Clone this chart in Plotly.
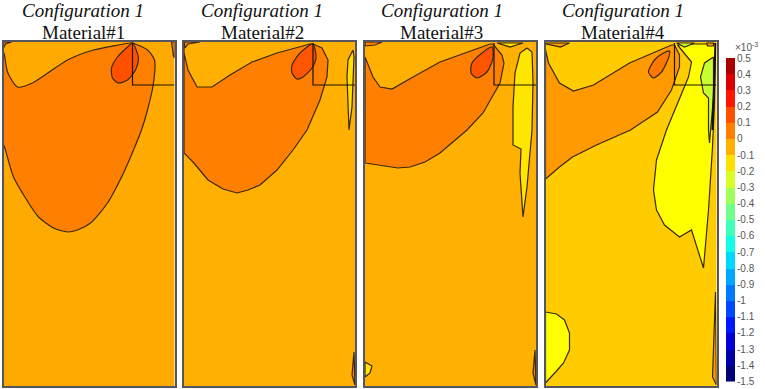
import plotly.graph_objects as go

W, H = 765, 389
PANEL_LEFT = [3.5, 184, 365, 545.5]
PANEL_W, PANEL_H = 171, 344
PANEL_TOP = 42
MATERIALS = ["Material#1", "Material#2", "Material#3", "Material#4"]
TITLE_X = [83, 262, 442, 623]

BAR_COLORS = ["#aa0000", "#dd0000", "#ff1500", "#ff5000", "#ff8000", "#ffb000", "#ffe000", "#d8ff28",
              "#a0ff58", "#70ff88", "#40ffb8", "#10ffe8", "#00d8ff", "#00a8ff", "#0078ff", "#0048ff",
              "#0018ff", "#0000d8", "#0000a8", "#000078"]
BAR_TICKS = [0.5, 0.4, 0.3, 0.2, 0.1, 0, -0.1, -0.2, -0.3, -0.4, -0.5, -0.6, -0.7, -0.8, -0.9,
             -1, -1.1, -1.2, -1.3, -1.4, -1.5]
BAR_MIDS = [0.45, 0.35, 0.25, 0.15, 0.05, -0.05, -0.15, -0.25, -0.35, -0.45, -0.55, -0.65, -0.75,
            -0.85, -0.95, -1.05, -1.15, -1.25, -1.35, -1.45]

BG = ["#ffaa00", "#ffb000", "#ffb000", "#ffcc00"]

p1_lobe = [(0,10),(1,13),(4,30),(14,45),(29,41),(64,18),(90,8),(127,1),(129,1),(144,8),(151,18),(150,41),
           (144,68),(138,88),(130,108),(120,131),(104,161),(87,181),(74,188),(64,190),(50,186),(35,175),
           (22,156),(10,135),(1,105),(0,103)]
p1_core = [(129,1),(135,16),(132,28),(124,38),(115,41),(109,36),(108,26),(114,15),(124,5)]
p1_tl = [(0,0),(8,0),(2,2),(0,6)]
p1_tr = [(171,0),(168,0),(170,14),(171,16)]

p2_lobe = [(0,0),(0,11),(4,28),(13,45),(28,45),(46,33),(68,20),(93,11),(126,2),(129,2),(138,6),(144,18),(143,35),
           (136,58),(123,88),(109,108),(93,128),(76,143),(64,148),(53,151),(39,147),(24,138),(9,120),(0,111)]
p2_core = [(129,2),(132,16),(128,26),(119,35),(113,37),(108,31),(108,23),(116,11)]
p2_sliver = [(169,8),(164,18),(163,35),(164,60),(165,88),(168,65),(169,38),(170,15)]
p2_tl = [(0,0),(16,0),(4,2),(1,6)]
p2_br = [(168,333),(170,310),(171,343)]

p3_lobe = [(0,15),(8,35),(15,45),(27,47),(48,35),(75,20),(125,2),(128,2),(137,13),(139,21),(135,41),(118,71),
           (102,88),(88,100),(75,111),(60,120),(45,125),(33,126),(18,124),(0,121)]
p3_core = [(127,5),(128,16),(122,30),(112,36),(106,31),(107,21),(117,11)]
p3_yellow = [(162,6),(155,11),(150,31),(148,65),(148,103),(156,107),(155,131),(158,175),(162,145),(167,88),
             (168,40),(167,10)]
p3_top = [(132,1),(158,1),(145,5)]
p3_tl = [(0,0),(17,0),(10,3),(0,4)]
p3_bl = [(0,320),(7,324),(5,331),(0,335)]
p3_br = [(168,331),(170,308),(171,343)]

p4_lobe = [(0,8),(3,21),(14,41),(28,49),(48,43),(84,21),(126,3),(129,3),(134,13),(134,25),(126,48),(112,70),
           (85,88),(51,103),(27,115),(14,125),(0,137)]
p4_core = [(124,9),(123,16),(116,30),(108,36),(103,30),(109,18),(118,11)]
p4_yellow = [(132,3),(146,20),(143,35),(128,71),(121,88),(111,118),(108,148),(111,168),(119,183),(134,195),
             (146,188),(158,226),(163,168),(167,105),(169,60),(170,2),(149,2)]
p4_green = [(168,15),(159,21),(155,35),(158,51),(163,56),(163,88),(164,101),(166,75),(168,55)]
p4_top = [(131,1),(149,1),(139,5)]
p4_tr = [(161,1),(168,1),(168,4),(162,4)]
p4_tl = [(1,1),(24,1),(15,5),(1,2)]
p4_bl = [(0,270),(11,272),(19,278),(24,291),(24,308),(18,321),(11,329),(0,341)]
p4_br = [(167,335),(170,250),(171,343)]
p4_edge = [(170,1),(167,88)]

box_line = [(129,1),(129,43),(171,43)]

panels = [
    [(p1_lobe,"#ff8000",1),(p1_core,"#ff5000",1),(p1_tl,"#ff8000",0),(p1_tr,"#ff8000",0)],
    [(p2_lobe,"#ff8000",0),(p2_core,"#ff5500",1),(p2_sliver,"#ffe000",0),(p2_tl,"#ff8000",0),(p2_br,"#ff8000",0)],
    [(p3_lobe,"#ff8000",0),(p3_core,"#ff5500",1),(p3_yellow,"#ffe600",0),(p3_top,"#ffe600",0),(p3_tl,"#ff8000",0),
     (p3_bl,"#ffe600",0),(p3_br,"#ff8000",0)],
    [(p4_lobe,"#ff9900",0),(p4_core,"#ff7700",1),(p4_yellow,"#ffff00",0),(p4_green,"#c8ff30",0),(p4_top,"#c8ff30",0),
     (p4_tr,"#ff9900",0),(p4_tl,"#ff9900",0),(p4_bl,"#ffff00",0),(p4_br,"#ff9900",0)],
]

fig = go.Figure()
layout = dict(width=W, height=H, margin=dict(l=0, r=0, t=0, b=0, pad=0), showlegend=False, template="none",
              paper_bgcolor="white", plot_bgcolor="white", shapes=[], annotations=[])
INK = "#3a2800"
for i, polys in enumerate(panels):
    n = i + 1
    sx = "" if n == 1 else str(n)
    layout[f"xaxis{sx}"] = dict(domain=[PANEL_LEFT[i]/W, (PANEL_LEFT[i]+PANEL_W)/W], range=[0, PANEL_W],
                                anchor=f"y{sx}", showticklabels=False, ticks="", showgrid=False, zeroline=False,
                                automargin=False, showline=True, mirror=True, linecolor="#55555f", linewidth=1.5)
    layout[f"yaxis{sx}"] = dict(domain=[1-(PANEL_TOP+PANEL_H)/H, 1-PANEL_TOP/H], range=[PANEL_H, 0],
                                anchor=f"x{sx}", showticklabels=False, ticks="", showgrid=False, zeroline=False,
                                automargin=False, showline=True, mirror=True, linecolor="#55555f", linewidth=1.5)
    layout["shapes"].append(dict(type="rect", xref=f"x{sx} domain", yref=f"y{sx} domain", x0=0, x1=1, y0=0, y1=1,
                                 fillcolor=BG[i], line_width=0, layer="below"))
    for poly, col, smooth in polys:
        xs = [p[0] for p in poly] + [poly[0][0]]
        ys = [p[1] for p in poly] + [poly[0][1]]
        line = dict(color=INK, width=1.2)
        if smooth:
            line.update(shape="spline", smoothing=0.7)
        fig.add_trace(go.Scatter(x=xs, y=ys, xaxis=f"x{sx}", yaxis=f"y{sx}", mode="lines", fill="toself",
                                 fillcolor=col, line=line, hoverinfo="skip"))
    fig.add_trace(go.Scatter(x=[p[0] for p in box_line], y=[p[1] for p in box_line], xaxis=f"x{sx}", yaxis=f"y{sx}",
                             mode="lines", line=dict(color="#1a1200", width=1.2), hoverinfo="skip"))
    layout["annotations"].append(dict(text="<i>Configuration 1</i>", x=TITLE_X[i]/W, y=1-10/H, xref="paper", yref="paper",
                                      showarrow=False, xanchor="center", yanchor="middle",
                                      font=dict(family="Liberation Serif", size=19, color="#111")))
    layout["annotations"].append(dict(text=MATERIALS[i], x=TITLE_X[i]/W, y=1-32/H, xref="paper", yref="paper",
                                      showarrow=False, xanchor="center", yanchor="middle",
                                      font=dict(family="Liberation Serif", size=19, color="#111")))

fig.add_trace(go.Scatter(x=[p[0] for p in p4_edge], y=[p[1] for p in p4_edge], xaxis="x4", yaxis="y4",
                         mode="lines", line=dict(color="#111", width=2), hoverinfo="skip"))

# colour bar
fig.add_trace(go.Heatmap(z=[[m] for m in BAR_MIDS], x=[0], y=BAR_MIDS, xaxis="x5", yaxis="y5", showscale=False,
                         colorscale=[[j/19, c] for j, c in enumerate(reversed(BAR_COLORS))], hoverinfo="skip"))
layout["xaxis5"] = dict(domain=[726/W, 735/W], anchor="y5", showticklabels=False, ticks="", showgrid=False,
                        automargin=False, zeroline=False, range=[-0.5, 0.5])
layout["yaxis5"] = dict(domain=[1-381.5/H, 1-58/H], anchor="x5", side="right", range=[-1.5, 0.5], showgrid=False,
                        automargin=False, zeroline=False, tickmode="array", tickvals=BAR_TICKS,
                        ticktext=[str(t) for t in BAR_TICKS], ticks="", ticklen=0, ticklabelstandoff=1,
                        tickfont=dict(family="Liberation Sans", size=10, color="#555"))
layout["annotations"].append(dict(text="×10<sup>-3</sup>", x=733/W, y=1-47/H, xref="paper", yref="paper", showarrow=False,
                                  xanchor="left", yanchor="middle", font=dict(family="Liberation Sans", size=10, color="#555")))
fig.update_layout(**layout)
fig.write_html("out.html", config=dict(displayModeBar=False),
               post_script="document.body.style.margin='0';document.documentElement.style.overflow='hidden';")
